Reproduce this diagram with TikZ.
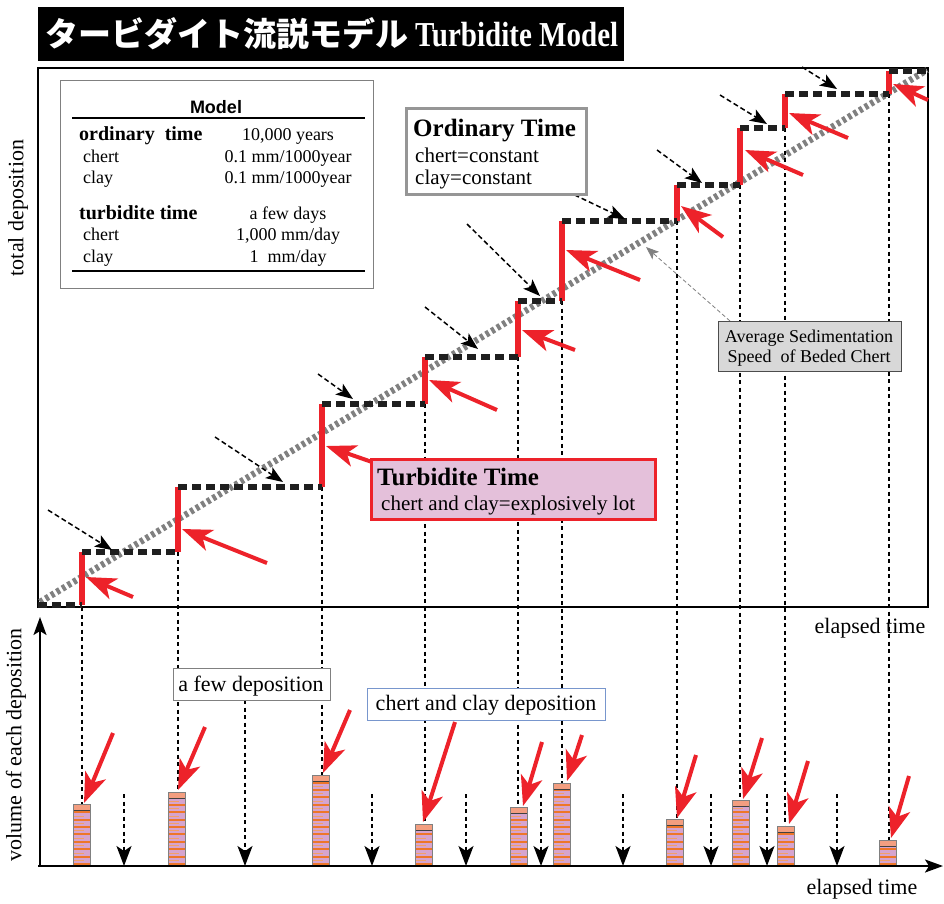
\documentclass[tikz,border=0pt]{standalone}
\usepackage{fontspec}
\setmainfont{Liberation Serif}
\newfontfamily\jpfont{Noto Sans CJK JP}
\newfontfamily\hvfont{Liberation Sans}
\usetikzlibrary{arrows.meta}
\definecolor{tred}{RGB}{237,34,42}
\definecolor{tpink}{RGB}{228,192,218}
\definecolor{barlav}{RGB}{214,164,206}
\definecolor{barorg}{RGB}{238,118,40}
\definecolor{barcap}{RGB}{243,158,128}
\definecolor{avggray}{RGB}{128,128,128}
\definecolor{boxgray}{RGB}{216,216,216}
\definecolor{chbl}{RGB}{120,150,205}
\definecolor{ogray}{RGB}{150,150,150}
\tikzset{
  fs/.style={font=\fontsize{#1}{#1}\selectfont},
  fsb/.style={font=\fontsize{#1}{#1}\selectfont\bfseries},
  txt/.style={inner sep=0pt, anchor=base west},
  ctxt/.style={inner sep=0pt, anchor=base},
  plateau/.style={line width=6.5pt, dash pattern=on 9pt off 5pt, black!88},
  riser/.style={line width=6pt, tred},
  drop/.style={line width=1.5pt, dash pattern=on 4pt off 3.5pt, black},
  pointer/.style={line width=1.5pt, dash pattern=on 5pt off 3pt, -{Stealth[length=17pt,width=13pt,inset=4pt]}},
  downarrow/.style={line width=1.5pt, dash pattern=on 4pt off 3.5pt, -{Stealth[length=20pt,width=15pt,inset=5pt]}},
  redarrow/.style={line width=4pt, tred, -{Stealth[length=30pt,width=22pt,inset=8pt]}},
  avgline/.style={line width=6.5pt, avggray, dash pattern=on 3.5pt off 3pt},
  boxnode/.style={inner sep=0pt, anchor=north west},
}
\newcommand\depbar[3]{%
  \pgfmathsetmacro\dbL{#2-8.5}\pgfmathsetmacro\dbR{#2+8.5}\pgfmathsetmacro\dbC{#3+6}%
  \begin{scope}
    \clip (\dbL,\dbC) rectangle (\dbR,866);
    \fill[barlav] (\dbL,\dbC) rectangle (\dbR,866);
    \foreach \k in {0,...,14} {
      \draw[barorg, line width=2pt] (\dbL,{864-7.4*\k}) -- (\dbR,{864-7.4*\k});
      \draw[barorg!70, line width=0.7pt] (\dbL,{860.3-7.4*\k}) -- ({\dbL+10},{860.3-7.4*\k});
    }
  \end{scope}
  \fill[barcap] (\dbL,#3) rectangle (\dbR,\dbC);
  \draw[black!75,line width=0.8pt] (\dbL,\dbC)--(\dbR,\dbC);
  \draw[gray, line width=0.8pt] (\dbL,#3) rectangle (\dbR,866);
  \coordinate (#1) at (#2,#3);
}
\begin{document}
\begin{tikzpicture}[x=1pt,y=-1pt]
\useasboundingbox (0,0) rectangle (944,903);
\fill[white] (0,0) rectangle (944,903);

% title
\fill[black] (38,7) rectangle (624,61);
\node[txt, text=white] (title) at (45,46) {{\fontsize{33}{33}\selectfont\jpfont\bfseries タービダイト流説モデル}\hspace{7pt}{\fontsize{35}{35}\selectfont\bfseries\scalebox{0.83}[1]{Turbidite Model}}};

% frame of the upper panel
\draw[line width=1.5pt] (38,68) rectangle (928,607);

% average line
\coordinate (avg0) at (40,602);
\coordinate (avg1) at (927,70);
\draw[avgline] (avg0) -- (avg1);

% step corners
\foreach \n/\x/\lo/\hi/\bt in {1/82/605/552/804, 2/178/552/487/792, 3/322/487/404/775, 4/425/404/357/824, 5/518/357/301/807, 6/562/301/221/783, 7/677/221/185/819, 8/740/185/128/800, 9/785/128/94/826, 10/889/94/71/840}
{ \coordinate (rb\n) at (\x,\lo); \coordinate (rt\n) at (\x,\hi); \coordinate (bt\n) at (\x,\bt); }

% dotted drops
\coordinate (axis1) at (82,607);
\draw[drop] (axis1) -- (bt1);
\foreach \n in {2,...,10} \draw[drop] (rb\n) -- (bt\n);

% lower dotted arrows
\foreach \n/\x/\t in {1/124/794, 3/372/794, 4/466/794, 5/541/794, 6/623/794, 7/711/794, 8/767/794, 9/837/794}
{ \coordinate (dt\n) at (\x,\t); \coordinate (dh\n) at (\x,866); \draw[downarrow] (dt\n) -- (dh\n); }
\coordinate (dt2) at (245,700); \coordinate (dh2) at (245,866);
\draw[downarrow] (dt2) -- (dh2);

% risers and plateaus
\foreach \n in {1,...,10} \draw[riser] (rb\n) -- (rt\n);
\coordinate (p0) at (38,605);
\coordinate (p11) at (928,71);
\draw[plateau] (p0) -- (rb1);
\foreach \n [evaluate=\n as \m using int(\n+1)] in {1,...,9} \draw[plateau] (rt\n) -- (rb\m);
\draw[plateau] (rt10) -- (p11);

% dashed pointers to plateaus
\foreach \n/\ax/\ay/\bx/\by in {1/48/510/112/550, 2/215/437/283/482, 3/318/374/353/399, 4/425/307/478/349, 5/467/224/540/296, 6/560/188/625/219, 7/657/150/702/183, 8/720/95/767/124, 9/802/67/837/89}
{ \coordinate (pa\n) at (\ax,\ay); \coordinate (pb\n) at (\bx,\by); \draw[pointer] (pa\n) -- (pb\n); }

% red arrows upper panel
\foreach \n/\ax/\ay/\bx/\by in {1/133/597/86/577, 2/267/563/182/529, 3/372/462/326/446, 4/497/410/429/380, 5/575/350/522/330, 6/640/280/566/250, 7/723/237/681/206, 8/803/175/745/150, 9/848/138/789/113, 10/928/100/893/84}
{ \coordinate (ra\n) at (\ax,\ay); \coordinate (rp\n) at (\bx,\by); \draw[redarrow] (ra\n) -- (rp\n); }

% bars
\depbar{bar1}{82}{804}
\depbar{bar2}{177}{792}
\depbar{bar3}{321}{775}
\depbar{bar4}{424}{824}
\depbar{bar5}{519}{807}
\depbar{bar6}{562}{783}
\depbar{bar7}{675}{819}
\depbar{bar8}{741}{800}
\depbar{bar9}{786}{826}
\depbar{bar10}{888}{840}

% red arrows lower panel
\foreach \n/\ax/\ay/\bx/\by in {1/113/733/84/803, 2/205/727/178/790, 3/350/710/323/773, 4/455/722/423/822, 5/542/742/523/806, 6/582/735/567/781, 7/696/755/677/818, 8/762/738/743/799, 9/808/761/789/824, 10/909/776/891/838}
{ \coordinate (la\n) at (\ax,\ay); \coordinate (lp\n) at (\bx,\by); \draw[redarrow] (la\n) -- (lp\n); }

% lower axes
\coordinate (xa0) at (38,866); \coordinate (xa1) at (943,866);
\coordinate (ya0) at (40,866); \coordinate (ya1) at (40,617);
\draw[line width=2pt, -{Stealth[length=18pt,width=13pt,inset=4pt]}] (xa0) -- (xa1);
\draw[line width=2pt, -{Stealth[length=18pt,width=13pt,inset=4pt]}] (ya0) -- (ya1);

% axis labels
\node[fs=22, rotate=90, inner sep=0pt] (ylab1) at (18,208) {total deposition};
\node[fs=22, rotate=90, inner sep=0pt] (ylab2) at (16,745) {volume of each deposition};
\node[fs=22, inner sep=0pt] (xlab1) at (870,628) {elapsed time};
\node[fs=22, inner sep=0pt] (xlab2) at (862,889) {elapsed time};

% model table
\node[boxnode, draw=gray, line width=0.8pt, fill=white, minimum width=313pt, minimum height=208pt] (modelbox) at (60,80) {};
\node[ctxt, font=\hvfont\fontsize{18}{18}\selectfont\bfseries] (mhead) at (216,113) {Model};
\draw[line width=1.2pt] (72,118) -- (365,118);
\node[txt, fsb=20] (m1) at (79,140) {ordinary\ \ time};
\node[txt, fs=18] (m2) at (83,162) {chert};
\node[txt, fs=18] (m3) at (83,183) {clay};
\node[txt, fsb=20] (m4) at (79,219) {turbidite time};
\node[txt, fs=18] (m5) at (83,240) {chert};
\node[txt, fs=18] (m6) at (83,262) {clay};
\node[ctxt, fs=18] (v1) at (288,140) {10,000 years};
\node[ctxt, fs=18] (v2) at (288,162) {0.1 mm/1000year};
\node[ctxt, fs=18] (v3) at (288,183) {0.1 mm/1000year};
\node[ctxt, fs=18] (v4) at (288,219) {a few days};
\node[ctxt, fs=18] (v5) at (288,240) {1,000 mm/day};
\node[ctxt, fs=18] (v6) at (288,262) {1\ \ mm/day};
\draw[line width=1.6pt] (72,271) -- (365,271);

% ordinary time box
\node[boxnode, draw=ogray, line width=3pt, fill=white, minimum width=180pt, minimum height=86pt] (obox) at (405,107) {};
\node[txt, fsb=25] (o1) at (413,136) {Ordinary Time};
\node[txt, fs=21] (o2) at (415,162) {chert=constant};
\node[txt, fs=21] (o3) at (415,184) {clay=constant};

% turbidite time box
\node[boxnode, draw=tred, line width=3pt, fill=tpink, minimum width=284pt, minimum height=60pt] (tbox) at (370,458) {};
\node[txt, fsb=25] (t1) at (377,485) {Turbidite Time};
\node[txt, fs=21] (t2) at (381,510) {chert and clay=explosively lot};

% average box
\coordinate (avgtail) at (730,321); \coordinate (avgtip) at (646,247);
\draw[gray, line width=0.8pt, dash pattern=on 4pt off 2.5pt, -{Stealth[length=13pt,width=10pt,inset=3pt]}] (avgtail) -- (avgtip);
\node[boxnode, draw=black!70, line width=1pt, fill=boxgray, minimum width=183pt, minimum height=50pt] (abox) at (718,321) {};
\node[ctxt, fs=18] (a1) at (809,342) {Average Sedimentation};
\node[ctxt, fs=18] (a2) at (809,362) {Speed\ \ of Beded Chert};

% lower boxes
\node[boxnode, draw=gray, line width=0.8pt, fill=white, minimum width=157pt, minimum height=32pt] (fewbox) at (173,668) {};
\node[ctxt, fs=22] (few) at (251,691) {a few deposition};
\node[boxnode, draw=chbl, line width=0.8pt, fill=white, minimum width=238pt, minimum height=32pt] (chbox) at (367,688) {};
\node[ctxt, fs=22] (chd) at (486,710) {chert and clay deposition};
\end{tikzpicture}
\end{document}
